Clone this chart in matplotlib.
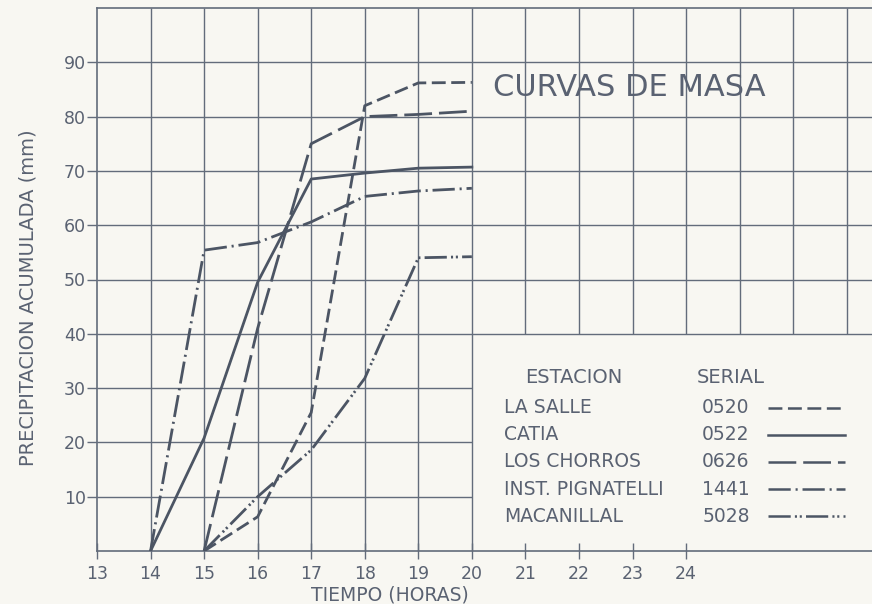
import matplotlib.pyplot as plt
from matplotlib.lines import Line2D

plt.rcParams['lines.scale_dashes'] = False

# datos
la_salle_h = [15, 16, 17, 18, 19, 20]
la_salle = [0, 6.3, 25.5, 82, 86.2, 86.3]
catia_h = [14, 15, 16, 17, 18, 19, 20]
catia = [0, 20.8, 49.5, 68.5, 69.6, 70.5, 70.7]
chorros_h = [15, 16, 17, 18, 19, 20]
chorros = [0, 41, 75, 80, 80.4, 81]
pignatelli_h = [14, 15, 16, 17, 18, 19, 20]
pignatelli = [0, 55.4, 56.8, 60.6, 65.3, 66.3, 66.8]
macanillal_h = [15, 16, 17, 18, 19, 20]
macanillal = [0, 10, 18.6, 31.8, 54, 54.2]

estaciones = ['LA SALLE', 'CATIA', 'LOS CHORROS', 'INST. PIGNATELLI', 'MACANILLAL']
seriales = ['0520', '0522', '0626', '1441', '5028']
yticks = [10, 20, 30, 40, 50, 60, 70, 80, 90]
xticks = list(range(13, 25))

tinta = '#4c5564'
rejilla = '#636c7b'
letra = '#5a6272'
papel = '#f8f7f2'
estilos = [(0, (10, 4)), '-', (0, (20, 5)), (0, (16, 3.5, 1.5, 3.5)),
           (0, (16, 3, 1.5, 2, 1.5, 3))]
series = [(la_salle_h, la_salle), (catia_h, catia), (chorros_h, chorros),
          (pignatelli_h, pignatelli), (macanillal_h, macanillal)]

fig = plt.figure(figsize=(8.72, 6.04), dpi=100, facecolor=papel)
ax = fig.add_axes([97 / 872, 53 / 604, 775 / 872, 543 / 604])
ax.set_facecolor(papel)
ax.set_xlim(13, 13 + 775 / 53.55)
ax.set_ylim(0, 100)

# cuadricula (recortada en la zona de la leyenda)
for h in range(14, 28):
    y0 = 0 if h <= 20 else 40
    ax.vlines(h, y0, 100, color=rejilla, lw=1.0, zorder=1)
for v in yticks:
    x1 = 20 if v < 40 else ax.get_xlim()[1]
    ax.hlines(v, 13, x1, color=rejilla, lw=1.0, zorder=1)

for (xs, ys), ls in zip(series, estilos):
    ax.plot(xs, ys, color=tinta, lw=2.0, linestyle=ls, zorder=3)

ax.spines['right'].set_visible(False)
for s in ['left', 'bottom', 'top']:
    ax.spines[s].set_color(rejilla)
    ax.spines[s].set_linewidth(1.2)

ax.set_xticks(xticks)
ax.set_xticklabels([str(t) for t in xticks])
ax.set_yticks(yticks)
ax.set_yticklabels([str(t) for t in yticks])
ax.tick_params(axis='x', direction='inout', length=12, width=1.0, color=rejilla,
               labelsize=12.5, labelcolor=letra, pad=4)
ax.tick_params(axis='y', length=7, width=1.0, color=rejilla,
               labelsize=12.5, labelcolor=letra, pad=1)

fig.text(390 / 872, 1 - 595 / 604, 'TIEMPO (HORAS)', fontsize=13.5, color=letra,
         ha='center', va='center')
fig.text(28 / 872, 1 - 298 / 604, 'PRECIPITACION ACUMULADA (mm)', fontsize=14,
         color=letra, ha='center', va='center', rotation=90)

ax.text(20.4, 85.4, 'CURVAS DE MASA', fontsize=22, color=letra,
        va='center', ha='left', zorder=4)

# leyenda
ax.text(21.0, 32.0, 'ESTACION', fontsize=14, color=letra, va='center', zorder=4)
ax.text(24.2, 32.0, 'SERIAL', fontsize=14, color=letra, va='center', zorder=4)
for i, (nom, ser, ls) in enumerate(zip(estaciones, seriales, estilos)):
    yy = 26.4 - i * 5.0
    ax.text(20.6, yy, nom, fontsize=13.5, color=letra, va='center', zorder=4)
    ax.text(24.3, yy, ser, fontsize=13.5, color=letra, va='center', zorder=4)
    ax.add_line(Line2D([25.53, 26.97], [yy, yy], color=tinta, lw=1.8,
                       linestyle=ls, zorder=4))

fig.savefig('out.png', dpi=100, facecolor=papel)
